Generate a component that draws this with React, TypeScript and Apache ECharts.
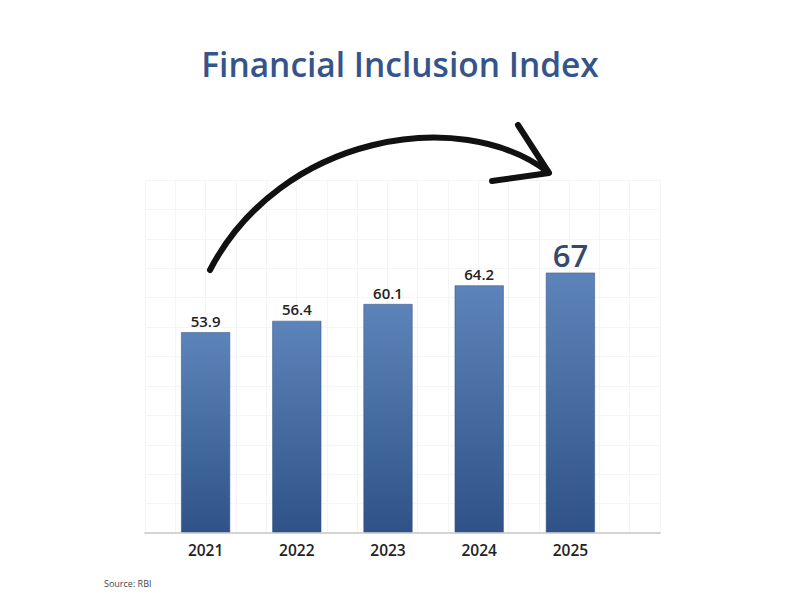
import React, { useEffect, useRef } from "react";
import * as echarts from "echarts";

const categories = ["2021", "2022", "2023", "2024", "2025"];
const values = [53.9, 56.4, 60.1, 64.2, 67];
const titleText = "Financial Inclusion Index";
const sourceText = "Source: RBI";

export default function App() {
  const ref = useRef<HTMLDivElement>(null);
  useEffect(() => {
    if (!ref.current) return;
    const chart = echarts.init(ref.current, null, { renderer: "svg" });
    const last = values.length - 1;
    const option: any = {
      animation: false,
      backgroundColor: "#ffffff",
      title: {
        text: titleText,
        left: "center",
        top: 42,
        textStyle: {
          fontFamily: "Open Sans",
          fontSize: 33.5,
          fontWeight: 600,
          color: "#35558a",
        },
      },
      grid: [
        { left: 160, right: 184, top: 168, bottom: 68 },
        { left: 145, right: 140, top: 180, bottom: 67 },
      ],
      xAxis: [
        {
          type: "category",
          data: categories,
          gridIndex: 0,
          axisLine: { show: false },
          axisTick: { show: false },
          axisLabel: {
            margin: 10,
            fontFamily: "Open Sans",
            fontSize: 15.5,
            fontWeight: 600,
            color: "#222222",
          },
          z: 3,
        },
        {
          type: "value",
          gridIndex: 1,
          min: 0,
          max: 17,
          interval: 1,
          axisLine: { show: true, lineStyle: { color: "#d4d4d4", width: 2 } },
          axisTick: { show: false },
          axisLabel: { show: false },
          splitLine: { show: true, lineStyle: { color: "#f5f5f5", width: 1 } },
        },
      ],
      yAxis: [
        {
          type: "value",
          gridIndex: 0,
          min: 10,
          max: 90,
          show: false,
          splitLine: { show: false },
        },
        {
          type: "value",
          gridIndex: 1,
          min: 0,
          max: 12,
          interval: 1,
          axisLine: { show: false },
          axisTick: { show: false },
          axisLabel: { show: false },
          splitLine: { show: true, lineStyle: { color: "#f5f5f5", width: 1 } },
        },
      ],
      series: [
        {
          type: "bar",
          xAxisIndex: 0,
          yAxisIndex: 0,
          barWidth: 49,
          z: 5,
          data: values.map((v, i) =>
            i === last
              ? {
                  value: v,
                  label: {
                    fontSize: 31,
                    fontWeight: 600,
                    color: "#34496c",
                    distance: 2,
                  },
                }
              : v
          ),
          itemStyle: {
            color: new echarts.graphic.LinearGradient(0, 0, 0, 1, [
              { offset: 0, color: "#5d84ba" },
              { offset: 1, color: "#2f5389" },
            ]),
            borderColor: "#2d4f82",
            borderWidth: 0.5,
          },
          label: {
            show: true,
            position: "top",
            distance: 4,
            fontFamily: "Open Sans",
            fontSize: 15,
            fontWeight: 600,
            color: "#222222",
          },
        },
      ],
      graphic: [
        {
          type: "bezierCurve",
          z: 10,
          shape: {
            x1: 210,
            y1: 270,
            cpx1: 280,
            cpy1: 135,
            cpx2: 460,
            cpy2: 105,
            x2: 548,
            y2: 172,
          },
          style: {
            stroke: "#111111",
            lineWidth: 6,
            fill: null,
            lineCap: "round",
          },
        },
        {
          type: "polyline",
          z: 10,
          shape: {
            points: [
              [518, 125],
              [549, 173],
              [492, 181],
            ],
          },
          style: {
            stroke: "#111111",
            lineWidth: 6,
            fill: null,
            lineCap: "round",
            lineJoin: "round",
          },
        },
        {
          type: "text",
          left: 104,
          top: 579,
          style: {
            text: sourceText,
            fontFamily: "Open Sans",
            fontSize: 9,
            fill: "#444444",
          },
        },
      ],
    };
    chart.setOption(option);
    return () => chart.dispose();
  }, []);
  return (
    <div
      ref={ref}
      style={{ position: "fixed", left: 0, top: 0, width: 800, height: 600 }}
    />
  );
}
